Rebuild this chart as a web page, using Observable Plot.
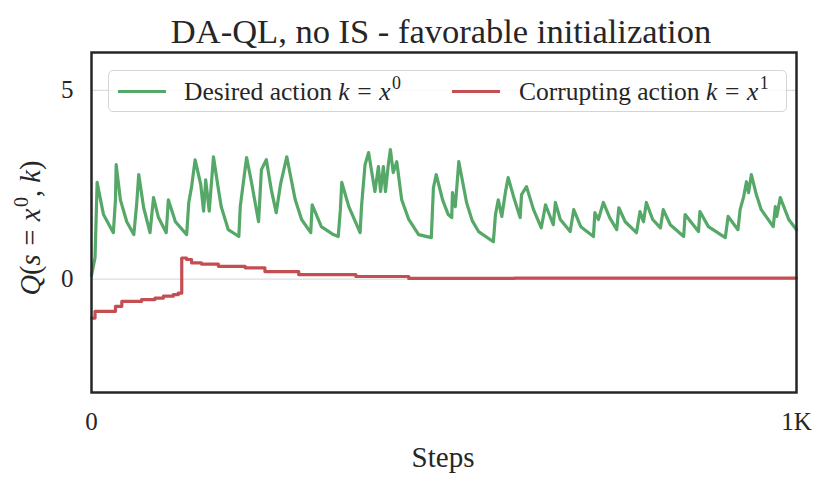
<!DOCTYPE html>
<html>
<head>
<meta charset="utf-8">
<script src="https://cdn.jsdelivr.net/npm/d3@7"></script>
<script src="https://cdn.jsdelivr.net/npm/@observablehq/plot@0.6"></script>
<style>
  html, body { margin: 0; padding: 0; background: #fff; }
  #wrap { position: relative; width: 830px; height: 489px; font-family: "Liberation Serif", serif; color: #262626; }
  #wrap svg { position: absolute; left: 0; top: 0; }
  .ov { position: absolute; white-space: nowrap; line-height: 1; }
  #title { left: 0; width: 882px; top: 14px; text-align: center; font-size: 34.5px; }
  #xlabel { left: 0; width: 886px; top: 443px; text-align: center; font-size: 29px; }
  #ylabel { left: 31px; top: 228px; font-size: 28.5px; transform: translate(-50%, -50%) rotate(-90deg); }
  #legend { left: 108px; top: 70px; width: 677px; height: 40px; border: 1.5px solid #d5d5d5; border-radius: 5px; background: rgba(255,255,255,0.8); }
  .sw { position: absolute; top: 19px; width: 48px; height: 3px; }
  .lt { position: absolute; top: 8px; font-size: 25.5px; }
  .eq { margin: 0 0.3em; }
  i { font-style: italic; }
  sup { font-size: 0.7em; vertical-align: 0.6em; line-height: 0; margin-left: 0.08em; }
</style>
</head>
<body>
<div id="wrap">
  <div id="chart"></div>
  <div class="ov" id="title">DA-QL, no IS - favorable initialization</div>
  <div class="ov" id="xlabel">Steps</div>
  <div class="ov" id="ylabel"><i>Q</i>(<i>s</i><span class="eq">=</span><i>x</i><sup>0</sup>, <i>k</i>)</div>
  <div class="ov" id="legend">
    <div class="sw" style="left:9px;background:#55a868"></div>
    <div class="lt" style="left:75px">Desired action <i>k</i><span class="eq">=</span><i>x</i><sup>0</sup></div>
    <div class="sw" style="left:343px;background:#c44e52"></div>
    <div class="lt" style="left:410px">Corrupting action <i>k</i><span class="eq">=</span><i>x</i><sup>1</sup></div>
  </div>
</div>
<script>
const greenSteps = [0,5,8,17,31,34,35,41,50,60,64,67,74,83,88,95,106,109,119,135,138,142,147,155,159,162,167,173,179,184,194,209,211,220,227,237,241,248,255,262,268,277,289,298,311,313,326,343,350,353,355,365,381,383,388,393,402,407,410,414,417,421,424,428,433,440,450,464,482,485,489,498,506,511,512,516,521,532,540,549,570,573,577,582,587,591,600,608,610,617,627,638,644,655,658,665,679,684,694,712,714,719,726,735,745,748,757,773,778,783,787,796,807,811,821,840,842,850,861,863,875,899,903,917,920,925,929,932,936,943,950,967,970,972,977,989,1000];
const greenQ = [0.1,0.57,2.56,1.71,1.23,2.1,3.03,2.1,1.52,1.18,1.97,2.77,1.89,1.23,2.16,1.63,1.23,2.1,1.52,1.18,2.03,2.45,3.16,2.5,1.8,2.63,1.8,3.24,2.5,1.92,1.31,1.13,1.92,3.22,2.56,1.52,2.9,3.16,2.37,1.76,2.5,3.24,2.1,1.58,1.23,1.97,1.39,1.18,1.13,1.84,2.56,1.92,1.23,1.92,3.03,3.35,2.32,2.98,2.32,2.98,2.32,3.03,3.43,2.82,3.11,2.1,1.58,1.18,1.1,2.42,2.77,2.1,1.71,1.63,2.29,1.92,3.11,2.03,1.55,1.26,0.99,1.71,2.1,1.66,2.29,2.69,2.1,1.63,2.24,2.45,1.84,1.36,1.97,1.44,2.03,1.58,1.26,1.84,1.39,1.13,1.76,1.58,2.03,1.63,1.31,1.89,1.52,1.23,1.79,1.52,2.03,1.58,1.36,1.84,1.44,1.13,1.71,1.52,1.26,1.79,1.39,1.1,1.66,1.31,1.84,2.18,2.58,2.29,2.77,2.24,1.84,1.39,1.92,1.66,2.16,1.58,1.31];
const redSteps = [0,5,34,43,71,90,102,116,123,128,135,142,156,180,218,246,294,375,450,600,700,1000];
const redQ = [-1.03,-0.85,-0.72,-0.59,-0.54,-0.5,-0.45,-0.41,-0.37,0.56,0.52,0.43,0.4,0.34,0.3,0.2,0.12,0.07,0.02,0.03,0.03,0.03];
const xTicks = [0, 1000];
const xTickLabels = ["0", "1K"];
const yTicks = [0, 5];

const green = greenSteps.map((s, i) => ({step: s, q: greenQ[i]}));
const red = redSteps.map((s, i) => ({step: s, q: redQ[i]}));

const chart = Plot.plot({
  width: 830,
  height: 489,
  marginLeft: 91,
  marginRight: 34,
  marginTop: 52,
  marginBottom: 97,
  style: { fontFamily: "Liberation Serif, serif", fontSize: "25px", color: "#262626", background: "transparent", overflow: "visible" },
  x: { domain: [0, 1000] },
  y: { domain: [-3, 6] },
  marks: [
    Plot.gridY(yTicks, { stroke: "#dcdcdc", strokeOpacity: 1, strokeWidth: 1.2 }),
    Plot.line(red, { x: "step", y: "q", curve: "step-after", stroke: "#c44e52", strokeWidth: 3.2 }),
    Plot.line(green, { x: "step", y: "q", stroke: "#55a868", strokeWidth: 3.2, strokeLinejoin: "round" }),
    Plot.frame({ stroke: "#262626", strokeWidth: 2.5 }),
    Plot.axisX(xTicks, { tickSize: 0, tickPadding: 20, label: null, tickFormat: (d) => xTickLabels[xTicks.indexOf(d)] }),
    Plot.axisY(yTicks, { tickSize: 0, tickPadding: 18, label: null })
  ]
});
document.getElementById("chart").appendChild(chart);
</script>
</body>
</html>
